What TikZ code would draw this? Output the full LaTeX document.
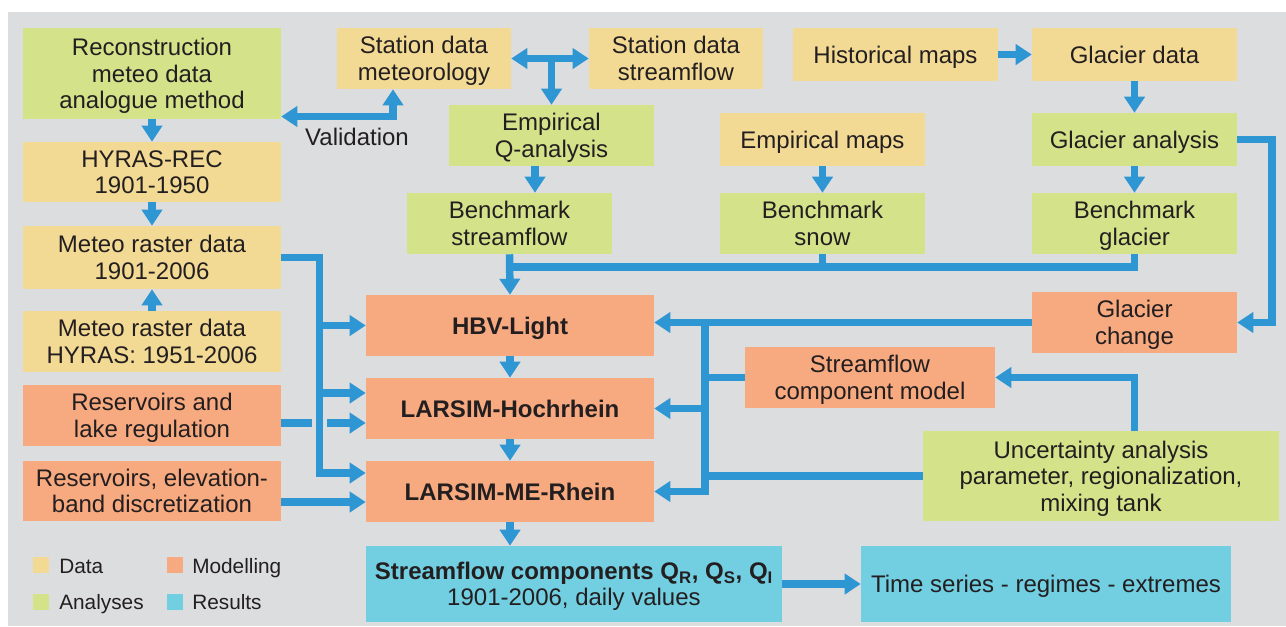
\documentclass[tikz,border=0pt]{standalone}
\usepackage{fontspec}
\setmainfont{Liberation Sans}
\usetikzlibrary{arrows.meta,calc}
\definecolor{cbg}{HTML}{DCDDDF}
\definecolor{cdata}{HTML}{F3DA94}
\definecolor{cana}{HTML}{D4E28A}
\definecolor{cmod}{HTML}{F7A97F}
\definecolor{cres}{HTML}{72CEE1}
\definecolor{carrow}{HTML}{2E96D2}
\definecolor{ctxt}{HTML}{231F20}
\newcommand\topstrut{\rule{0pt}{0.93em}}
\newcommand\botstrut{\rule[-0.21em]{0pt}{0.21em}}
\newcommand\flowbox[7]{%
  \pgfmathsetmacro\bcx{(#3+#5)/2}%
  \pgfmathsetmacro\bcy{(#4+#6)/2}%
  \pgfmathsetmacro\bw{(#5-#3)*0.75}%
  \pgfmathsetmacro\bh{(#6-#4)*0.75}%
  \node[#1, minimum width=\bw pt, minimum height=\bh pt] (#2) at (\bcx,\bcy) {\topstrut #7\botstrut};}
\tikzset{
  base/.style={inner sep=0pt, align=center, text=ctxt, font=\fontsize{18}{19.8}\selectfont},
  leg/.style={inner sep=0pt, text=ctxt, font=\fontsize{15.6}{18}\selectfont},
  databox/.style={base, fill=cdata},
  anabox/.style={base, fill=cana},
  modbox/.style={base, fill=cmod},
  resbox/.style={base, fill=cres},
  conn/.style={draw=carrow, line width=5.6pt},
  arr/.style={conn, -{Triangle[width=15pt,length=12pt]}},
  darr/.style={conn, {Triangle[width=15pt,length=12pt]}-{Triangle[width=15pt,length=12pt]}},
  legsq/.style={inner sep=0pt, minimum size=12pt},
}
\begin{document}
\begin{tikzpicture}[x=0.75pt,y=-0.75pt]
\useasboundingbox (0,0) rectangle (1286,626);
\fill[white] (0,0) rectangle (1286,626);
\fill[cbg] (8,12) rectangle (1286,626);

% boxes
\flowbox{anabox}{rec}{23}{28}{281}{119}{Reconstruction\\meteo data\\analogue method}
\flowbox{databox}{hyr}{23}{142}{281}{202}{HYRAS-REC\\1901-1950}
\flowbox{databox}{met1}{23}{226}{281}{289}{Meteo raster data\\1901-2006}
\flowbox{databox}{met2}{23}{311}{281}{372}{Meteo raster data\\HYRAS: 1951-2006}
\flowbox{modbox}{res1}{23}{385}{281}{446}{Reservoirs and\\lake regulation}
\flowbox{modbox}{res2}{23}{461}{281}{521}{Reservoirs, elevation-\\band discretization}
\flowbox{databox}{stmet}{337}{28}{511}{89}{Station data\\meteorology}
\flowbox{databox}{stsf}{589}{28}{763}{89}{Station data\\streamflow}
\flowbox{anabox}{empq}{449}{105}{654}{166}{Empirical\\Q-analysis}
\flowbox{anabox}{bsf}{407}{193}{612}{254}{Benchmark\\streamflow}
\flowbox{databox}{empm}{720}{113}{925}{166}{Empirical maps}
\flowbox{anabox}{bsn}{720}{193}{925}{254}{Benchmark\\snow}
\flowbox{databox}{hist}{793}{28}{998}{81}{Historical maps}
\flowbox{databox}{gdat}{1032}{28}{1237}{81}{Glacier data}
\flowbox{anabox}{gan}{1032}{113}{1237}{166}{Glacier analysis}
\flowbox{anabox}{bgl}{1032}{193}{1237}{254}{Benchmark\\glacier}
\flowbox{modbox}{hbv}{366}{295}{654}{356}{\textbf{HBV-Light}}
\flowbox{modbox}{hoch}{366}{378}{654}{439}{\textbf{LARSIM-Hochrhein}}
\flowbox{modbox}{me}{366}{461}{654}{522}{\textbf{LARSIM-ME-Rhein}}
\flowbox{modbox}{gch}{1032}{292}{1237}{353}{Glacier\\change}
\flowbox{modbox}{sfc}{745}{347}{995}{408}{Streamflow\\component model}
\flowbox{anabox}{unc}{923}{431}{1279}{521}{Uncertainty analysis\\parameter, regionalization,\\mixing tank}
\flowbox{resbox}{sc}{366}{546}{782}{622}{\textbf{Streamflow components Q\textsubscript{R}, Q\textsubscript{S}, Q\textsubscript{I}}\\1901-2006, daily values}
\flowbox{resbox}{ts}{861}{546}{1231}{622}{Time series - regimes - extremes}

\node[base] (val) at (357,137) {\topstrut Validation\botstrut};

% helper coordinates
\coordinate (vx) at (393,0);
\coordinate (vy) at (0,116.5);
\coordinate (qx) at (535,0);
\coordinate (yb) at (0,267);
\coordinate (bx) at (319.5,0);
\coordinate (y393) at (0,393);
\coordinate (y473) at (0,473);
\coordinate (ry) at (0,423);
\coordinate (g1) at (312,423);
\coordinate (g2) at (327,423);
\coordinate (r2y) at (0,502);
\coordinate (bx2) at (705,0);
\coordinate (rx) at (1272,0);

% connectors
\draw[arr] (rec.south) -- (hyr.north);
\draw[arr] (hyr.south) -- (met1.north);
\draw[arr] (met2.north) -- (met1.south);
\draw[darr] (rec.east |- vy) -| (vx |- stmet.south);
\draw[darr] (stmet.east) -- (stsf.west);
\draw[arr] (stmet.east -| empq.north) -- (empq.north);
\draw[arr] (empq.south -| qx) -- (bsf.north -| qx);
\draw[arr] (empm.south) -- (bsn.north);
\draw[arr] (hist.east) -- (gdat.west);
\draw[arr] (gdat.south) -- (gan.north);
\draw[arr] (gan.south) -- (bgl.north);
\draw[conn] (bgl.south) -- (bgl.south |- yb) -- (bsf.south |- yb);
\draw[conn] (bsn.south) -- (bsn.south |- yb);
\draw[arr] (bsf.south) -- (hbv.north);
\draw[arr] (hbv.south) -- (hoch.north);
\draw[arr] (hoch.south) -- (me.north);
\draw[arr] (me.south) -- (sc.north -| me.south);
\draw[arr] (sc.east) -- (ts.west);

\draw[arr] (met1.east) -| (bx |- y473) -- (me.west |- y473);
\draw[arr] (bx |- hbv.west) -- (hbv.west);
\draw[arr] (bx |- y393) -- (hoch.west |- y393);
\draw[conn] (res1.east |- ry) -- (g1);
\draw[arr] (g2) -- (hoch.west |- ry);
\draw[arr] (res2.east |- r2y) -- (me.west |- r2y);

\draw[arr] (gch.west) -- (gch.west -| hbv.east);
\draw[arr] (bx2 |- gch.west) |- (me.east);
\draw[arr] (bx2 |- hoch.east) -- (hoch.east);
\draw[conn] (sfc.west) -- (bx2 |- sfc.west);
\draw[conn] (unc.west) -- (bx2 |- unc.west);
\draw[arr] (unc.north -| gch.south) |- (sfc.east);
\draw[arr] (gan.east) -| (rx |- gch.east) -- (gch.east);

% legend
\node[legsq, fill=cdata] (l1) at (41,565) {};
\node[leg, anchor=base west] (t1) at (59,573) {Data};
\node[legsq, fill=cmod] (l2) at (175,565) {};
\node[leg, anchor=base west] (t2) at (192,573) {Modelling};
\node[legsq, fill=cana] (l3) at (41,602) {};
\node[leg, anchor=base west] (t3) at (59,609) {Analyses};
\node[legsq, fill=cres] (l4) at (175,602) {};
\node[leg, anchor=base west] (t4) at (192,609) {Results};
\end{tikzpicture}
\end{document}
